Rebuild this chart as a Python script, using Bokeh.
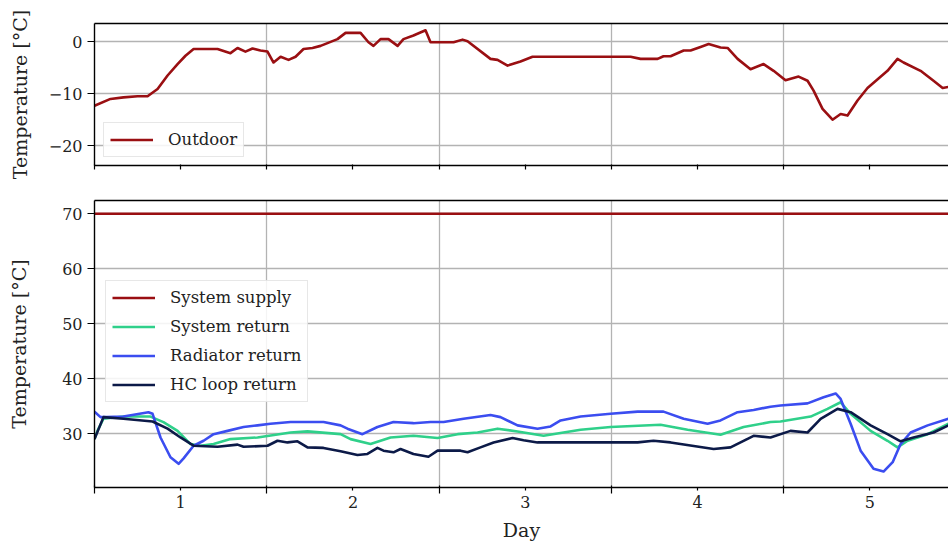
from bokeh.plotting import figure
from bokeh.models import Range1d, FixedTicker, LinearAxis
from bokeh.layouts import column
from bokeh.embed import file_html
from bokeh.resources import INLINE

# ---------------- data (x in days) ----------------
out_day = [0.0, 0.093, 0.168, 0.250, 0.308, 0.366, 0.424, 0.482, 0.528, 0.575, 0.714, 0.789,
           0.830, 0.876, 0.917, 0.963, 1.004, 1.039, 1.080, 1.126, 1.167, 1.213, 1.265, 1.312,
           1.410, 1.457, 1.544, 1.590, 1.619, 1.660, 1.706, 1.759, 1.793, 1.851, 1.921, 1.950,
           2.084, 2.136, 2.165, 2.298, 2.339, 2.397, 2.472, 2.542, 3.111, 3.169, 3.268, 3.302,
           3.343, 3.419, 3.459, 3.517, 3.564, 3.633, 3.674, 3.732, 3.807, 3.883, 3.941, 4.010,
           4.086, 4.138, 4.173, 4.225, 4.283, 4.330, 4.370, 4.428, 4.486, 4.602, 4.660, 4.695,
           4.794, 4.869, 4.922, 4.956]
outdoor = [-12.3, -11.0, -10.7, -10.5, -10.5, -9.1, -6.5, -4.3, -2.7, -1.4, -1.4, -2.2,
           -1.2, -1.9, -1.3, -1.7, -1.9, -4.0, -2.9, -3.5, -2.9, -1.4, -1.2, -0.8,
           0.5, 1.7, 1.7, -0.1, -0.8, 0.5, 0.5, -0.8, 0.5, 1.2, 2.2, -0.1,
           -0.1, 0.4, 0.1, -3.3, -3.5, -4.6, -3.8, -2.9, -2.9, -3.3, -3.3, -2.8,
           -2.8, -1.7, -1.7, -1.0, -0.45, -1.1, -1.2, -3.3, -5.3, -4.3, -5.6, -7.4,
           -6.7, -7.5, -9.4, -12.9, -15.0, -13.9, -14.2, -11.3, -8.9, -5.6, -3.3, -4.0,
           -5.6, -7.5, -8.9, -8.7]

supply_day = [0.0, 4.956]
system_supply = [70.0, 70.0]

sret_day = [0.0, 0.017, 0.052, 0.168, 0.325, 0.400, 0.482, 0.557, 0.615, 0.691, 0.789, 0.946,
            1.138, 1.236, 1.428, 1.486, 1.602, 1.718, 1.851, 1.991, 2.107, 2.223, 2.339, 2.455,
            2.606, 2.722, 2.821, 2.995, 3.285, 3.442, 3.633, 3.767, 3.923, 3.981, 4.156, 4.254,
            4.330, 4.388, 4.504, 4.602, 4.660, 4.719, 4.835, 4.956]
system_return = [29.0, 30.5, 32.7, 33.1, 33.1, 32.1, 30.5, 28.1, 27.8, 28.1, 29.0, 29.3,
                 30.2, 30.4, 29.9, 29.0, 28.1, 29.3, 29.6, 29.2, 29.9, 30.2, 30.9, 30.4,
                 29.6, 30.2, 30.7, 31.2, 31.6, 30.7, 29.8, 31.2, 32.1, 32.2, 33.1, 34.5,
                 35.7, 33.6, 30.5, 28.7, 27.5, 28.7, 29.9, 31.8]

rad_day = [0.0, 0.035, 0.064, 0.168, 0.313, 0.337, 0.383, 0.441, 0.488, 0.517, 0.575, 0.633,
           0.691, 0.772, 0.865, 0.946, 1.021, 1.138, 1.329, 1.428, 1.468, 1.555, 1.642, 1.735,
           1.851, 1.950, 2.026, 2.142, 2.298, 2.356, 2.455, 2.571, 2.647, 2.705, 2.821, 2.995,
           3.152, 3.302, 3.419, 3.558, 3.633, 3.732, 3.825, 3.923, 3.981, 4.138, 4.231, 4.301,
           4.330, 4.388, 4.446, 4.521, 4.579, 4.632, 4.678, 4.736, 4.835, 4.956]
radiator_return = [34.0, 33.0, 33.0, 33.1, 33.9, 33.6, 29.3, 25.7, 24.5, 25.5, 27.8, 28.7,
                   29.9, 30.5, 31.2, 31.5, 31.8, 32.1, 32.1, 31.5, 30.9, 29.9, 31.2, 32.1,
                   31.9, 32.1, 32.1, 32.7, 33.4, 33.0, 31.5, 30.9, 31.3, 32.4, 33.1, 33.6,
                   34.0, 34.0, 32.7, 31.8, 32.4, 33.9, 34.3, 34.9, 35.1, 35.5, 36.6, 37.3,
                   36.3, 31.8, 26.9, 23.6, 23.1, 24.8, 28.1, 30.2, 31.5, 32.7]

hc_day = [0.0, 0.052, 0.168, 0.337, 0.424, 0.499, 0.575, 0.714, 0.830, 0.865, 1.004, 1.062,
          1.120, 1.178, 1.236, 1.329, 1.428, 1.526, 1.584, 1.642, 1.677, 1.735, 1.776, 1.851,
          1.938, 1.991, 2.124, 2.165, 2.240, 2.316, 2.426, 2.490, 2.571, 2.821, 3.152, 3.244,
          3.343, 3.593, 3.691, 3.825, 3.923, 4.039, 4.138, 4.214, 4.312, 4.388, 4.504, 4.602,
          4.678, 4.753, 4.869, 4.956]
hc_loop_return = [29.0, 33.0, 32.7, 32.2, 30.9, 29.3, 27.8, 27.6, 28.0, 27.6, 27.8, 28.7,
                  28.4, 28.6, 27.5, 27.4, 26.8, 26.1, 26.3, 27.4, 26.9, 26.6, 27.2, 26.3,
                  25.8, 26.9, 26.9, 26.6, 27.5, 28.4, 29.2, 28.8, 28.4, 28.4, 28.4, 28.7,
                  28.4, 27.2, 27.5, 29.6, 29.3, 30.5, 30.2, 32.7, 34.5, 33.9, 31.5, 29.9,
                  28.6, 29.3, 30.2, 31.5]

day_label_pos = [0.5, 1.5, 2.5, 3.5, 4.5]
day_labels = ["1", "2", "3", "4", "5"]
day_bounds = [0, 1, 2, 3, 4]
top_yticks = [-20, -10, 0]
top_ylabels = ["\u221220", "\u221210", "0"]
bot_yticks = [30, 40, 50, 60, 70]

# ---------------- style ----------------
FONT = "DejaVu Serif"
RED = "#9a0f12"
GREEN = "#2fd08a"
BLUE = "#3b4df0"
NAVY = "#0c1a48"
GRID = "#b3b3b3"
TXT = "#222222"
LW = 2.6


def style(p, show_xlabels, ytick_vals, ylabel_over, ylabel_standoff):
    xa = p.xaxis[0]
    if show_xlabels:
        xa.ticker = FixedTicker(ticks=day_label_pos, minor_ticks=day_bounds)
        xa.major_label_overrides = {v: s for v, s in zip(day_label_pos, day_labels)}
        xa.major_label_text_font = FONT
        xa.major_label_text_color = TXT
        xa.major_label_text_font_size = "16px"
        xa.major_label_standoff = 2
        xa.axis_label = "Day"
        xa.axis_label_text_font = FONT
        xa.axis_label_text_font_size = "19px"
        xa.axis_label_text_font_style = "normal"
        xa.axis_label_text_color = TXT
        xa.axis_label_standoff = 8
        xa.major_tick_out = 3
        xa.major_tick_in = 0
        xa.minor_tick_out = 6
        xa.minor_tick_in = 2
    else:
        xa.ticker = FixedTicker(ticks=[], minor_ticks=day_bounds + day_label_pos)
        xa.minor_tick_out = 4
        xa.minor_tick_in = 1
    xa.major_tick_line_width = 1.2
    xa.minor_tick_line_width = 1.2
    xa.axis_line_width = 1.4
    xa.axis_line_color = "black"
    xa.major_tick_line_color = "black"
    xa.minor_tick_line_color = "black"

    ya = p.yaxis[0]
    ya.ticker = FixedTicker(ticks=ytick_vals)
    if ylabel_over:
        ya.major_label_overrides = ylabel_over
    ya.major_tick_out = 7
    ya.major_tick_in = 0
    ya.minor_tick_line_color = None
    ya.major_tick_line_width = 1.2
    ya.axis_line_width = 1.4
    ya.axis_line_color = "black"
    ya.major_tick_line_color = "black"
    ya.major_label_text_font = FONT
    ya.major_label_text_font_size = "16px"
    ya.major_label_text_color = TXT
    ya.major_label_standoff = 5
    ya.axis_label = "Temperature [°C]"
    ya.axis_label_text_font = FONT
    ya.axis_label_text_font_size = "19px"
    ya.axis_label_text_font_style = "normal"
    ya.axis_label_text_color = TXT
    ya.axis_label_standoff = ylabel_standoff

    top = LinearAxis(ticker=FixedTicker(ticks=[]), major_tick_line_color=None,
                     minor_tick_line_color=None, major_label_standoff=0,
                     axis_line_color="black", axis_line_width=1.4)
    p.add_layout(top, "above")

    p.xgrid[0].ticker = FixedTicker(ticks=[1, 2, 3, 4])
    p.xgrid[0].grid_line_color = GRID
    p.xgrid[0].grid_line_width = 1.3
    p.ygrid[0].ticker = FixedTicker(ticks=ytick_vals)
    p.ygrid[0].grid_line_color = GRID
    p.ygrid[0].grid_line_width = 1.3
    p.outline_line_color = None
    p.background_fill_color = "white"
    p.border_fill_color = "white"


def style_legend(p, loc):
    lg = p.legend[0]
    lg.location = loc
    lg.label_text_font = FONT
    lg.label_text_font_size = "16.5px"
    lg.label_text_color = TXT
    lg.glyph_width = 43
    lg.glyph_height = 21
    lg.label_height = 21
    lg.label_standoff = 15
    lg.spacing = 8
    lg.padding = 6
    lg.margin = 0
    lg.border_line_color = "#cfcfcf"
    lg.border_line_width = 1.2
    lg.background_fill_color = "white"
    lg.background_fill_alpha = 0.85


# ---------------- top panel ----------------
p1 = figure(width=948, height=182, output_backend="svg", toolbar_location=None,
            x_range=Range1d(0, 4.956), y_range=Range1d(-23.8, 3.5),
            min_border_left=94, min_border_right=0, min_border_top=23, min_border_bottom=17)
p1.line(out_day, outdoor, line_color=RED, line_width=LW, line_join="round",
        legend_label="Outdoor")
style(p1, False, top_yticks, {v: s for v, s in zip(top_yticks, top_ylabels)}, 15)
style_legend(p1, (9, 8))

# ---------------- bottom panel ----------------
p2 = figure(width=948, height=362, output_backend="svg", toolbar_location=None,
            x_range=Range1d(0, 4.956), y_range=Range1d(20.2, 72.4),
            min_border_left=94, min_border_right=0, min_border_top=18, min_border_bottom=57)
p2.line(supply_day, system_supply, line_color=RED, line_width=LW, legend_label="System supply")
p2.line(sret_day, system_return, line_color=GREEN, line_width=LW, line_join="round",
        legend_label="System return")
p2.line(rad_day, radiator_return, line_color=BLUE, line_width=LW, line_join="round",
        legend_label="Radiator return")
p2.line(hc_day, hc_loop_return, line_color=NAVY, line_width=LW, line_join="round",
        legend_label="HC loop return")
style(p2, True, bot_yticks, None, 29)
style_legend(p2, (11, 85))

layout = column(p1, p2, spacing=0)
open("out.html", "w").write(file_html(layout, INLINE))
